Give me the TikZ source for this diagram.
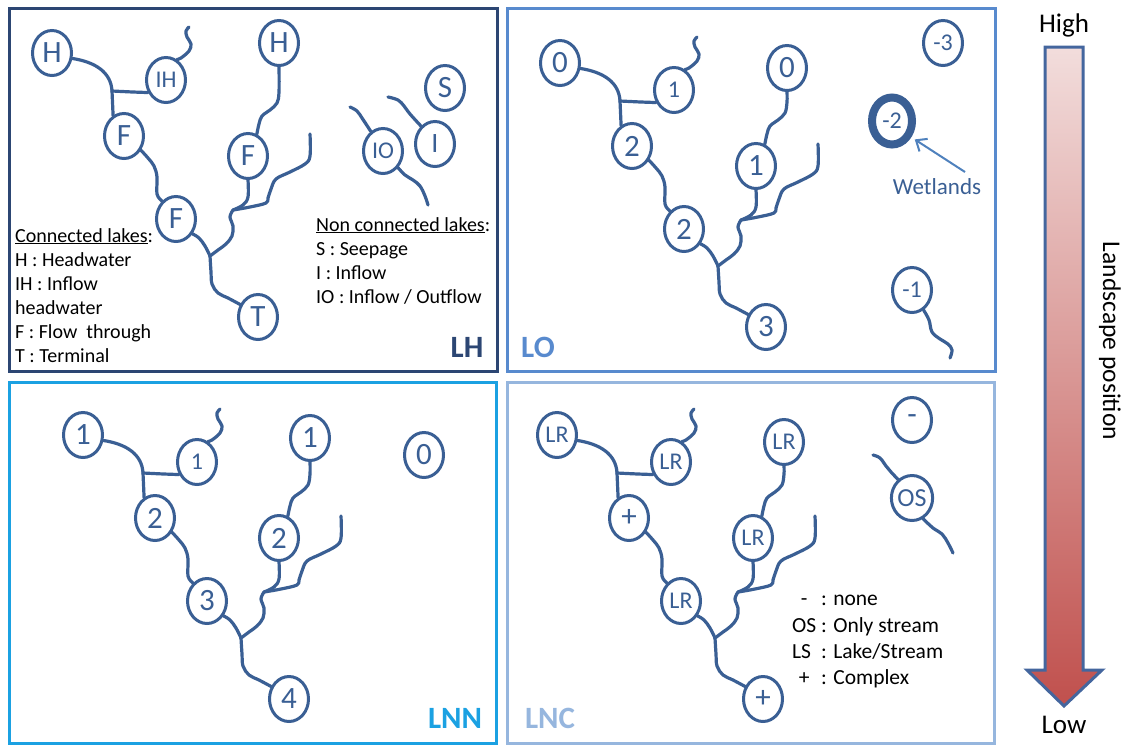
\documentclass[tikz,border=0pt]{standalone}
\usepackage{fontspec}
\setmainfont{Carlito}
\usetikzlibrary{shapes.geometric,arrows.meta}
\definecolor{riv}{RGB}{58,95,148}
\definecolor{boxLH}{RGB}{44,70,115}
\definecolor{boxLO}{RGB}{88,138,206}
\definecolor{boxLNN}{RGB}{27,161,226}
\definecolor{boxLNC}{RGB}{150,182,222}
\definecolor{thinarrow}{RGB}{79,129,189}
\definecolor{bigarrow}{RGB}{68,102,158}
\definecolor{pinktop}{RGB}{242,221,220}
\definecolor{redbot}{RGB}{192,80,77}
\newcommand\fsz[1]{\fontsize{#1}{#1}\selectfont}
\tikzset{
 lake/.style={ellipse, draw=riv, fill=white, line width=3pt, minimum width=39pt, minimum height=45pt, inner sep=0pt, text=riv, font=\fsz{31}},
 lakesm/.style={lake, font=\fsz{24}},
 river/.style={draw=riv, line width=3.2pt, line cap=round, line join=round},
 panel/.style={line width=3pt},
 leg/.style={anchor=base west, inner sep=0pt, font=\fsz{20}},
 legb/.style={anchor=base west, inner sep=0pt, font=\fsz{21.5}},
 tag/.style={inner sep=0pt, font=\fsz{31}\bfseries},
}
% #1 prefix, #2..#8 labels, #9 y of second headwater lake
\newcommand\lakenet[9]{%
 \node[lake] (#1H1) at (52,53) {#2};
 \node[lakesm] (#1IH) at (166,80) {#3};
 \node[lake] (#1F1) at (124,136) {#4};
 \node[lake] (#1F2) at (176,219) {#5};
 \node[lake] (#1H2) at (279,#9) {#6};
 \node[lake] (#1F3) at (248,156) {#7};
 \node[lake] (#1T) at (258,317) {#8};
 \coordinate (#1J1) at (112,91);
 \coordinate (#1J2) at (210,256);
 \coordinate (#1J3) at (233,210);
 \coordinate (#1E1) at (189,27);
 \coordinate (#1E2) at (310,134);
 \draw[river] (#1H1.-15) .. controls (95,62) and (111,72) .. (#1J1);
 \draw[river] (#1IH.215) .. controls (132,92) .. (#1J1);
 \draw[river] plot[smooth,tension=0.6] coordinates {(#1IH.62) (181,58) (189,51) (191,44) (187,37) (186,31) (#1E1)};
 \draw[river] (#1J1) -- (#1F1.118);
 \draw[river] plot[smooth,tension=0.6] coordinates {(#1F1.-40) (148,158) (154,166) (157,177) (157,194) (#1F2.128)};
 \draw[river] plot[smooth,tension=0.6] coordinates {(#1F2.-42) (199,238) (205,246) (#1J2)};
 \draw[river] plot[smooth,tension=0.6] coordinates {(#1J2) (211,272) (212,284) (218,293) (228,298) (#1T.145)};
 \draw[river] plot[smooth,tension=0.6] coordinates {(#1J2) (218,250) (226,244) (232,236) (233,226) (230,217) (#1J3)};
 \draw[river] plot[smooth,tension=0.6] coordinates {(#1J3) (243,205) (248,197) (#1F3.-90)};
 \draw[river] plot[smooth,tension=0.6] coordinates {(#1F3.68) (259,124) (262,116) (270,110) (277,103) (279,92) (#1H2.-90)};
 \draw[river] plot[smooth,tension=0.6] coordinates {(#1J3) (250,207) (266,203) (268,198) (271,189) (276,179) (290,172) (305,164) (310,156) (#1E2)};
}
\begin{document}
\begin{tikzpicture}[x=1pt,y=-1pt]
\useasboundingbox (0,0) rectangle (1126,745);
% panel frames
\draw[panel, draw=boxLH] (9,8) rectangle (497,371);
\draw[panel, draw=boxLO] (507,8) rectangle (995,371);
\draw[panel, draw=boxLNN] (9,382) rectangle (496,743);
\draw[panel, draw=boxLNC] (507,382) rectangle (994,743);

% ---------- LH ----------
\lakenet{a}{H}{IH}{F}{F}{H}{F}{T}{43}
\node[lake] (S) at (445,88) {S};
\node[lake, font=\fsz{28}] (I) at (435,144) {I};
\node[lakesm] (IO) at (383,151) {IO};
\coordinate (ioA) at (350,107);
\coordinate (ioB) at (428,205);
\coordinate (iA) at (388,97);
\draw[river] plot[smooth,tension=0.6] coordinates {(ioA) (357,111) (362,118) (366,124) (IO.122)};
\draw[river] plot[smooth,tension=0.6] coordinates {(IO.-48) (405,175) (413,180) (420,186) (425,196) (ioB)};
\draw[river] plot[smooth,tension=0.6] coordinates {(iA) (398,100) (404,106) (410,114) (I.128)};
\node[leg] (cl0) at (15,242) {\underline{Connected lakes}:};
\node[leg] (cl1) at (15,266) {H : Headwater};
\node[leg] (cl2) at (15,290) {IH : Inflow};
\node[leg] (cl3) at (15,314) {headwater};
\node[leg] (cl4) at (15,338) {F : Flow~ through};
\node[leg] (cl5) at (15,362) {T : Terminal};
\node[leg] (nl0) at (316,231) {\underline{Non connected lakes}:};
\node[leg] (nl1) at (316,255) {S : Seepage};
\node[leg] (nl2) at (316,279) {I : Inflow};
\node[leg] (nl3) at (316,303) {IO : Inflow / Outflow};
\node[tag, text=boxLH] (tLH) at (467,347) {LH};

% ---------- LO ----------
\begin{scope}[shift={(508,10)}]
\lakenet{b}{0}{1}{2}{2}{0}{1}{3}{58}
\end{scope}
\node[lakesm] (m3) at (943,43) {-3};
\node[lakesm, line width=8pt, minimum width=40pt, minimum height=47pt] (m2) at (892,121) {-2};
\node[lakesm] (m1) at (912,290) {-1};
\coordinate (m1e) at (950,358);
\draw[river] plot[smooth,tension=0.6] coordinates {(m1.-60) (929,320) (932,332) (940,339) (948,344) (952,350) (m1e)};
\node[inner sep=0pt, text=riv, font=\fsz{23}] (wl) at (937,187) {Wetlands};
\coordinate (wa) at (965,172);
\draw[draw=thinarrow, line width=2pt, shorten >=4pt, -{Straight Barb[length=9pt,width=15pt]}] (wa) -- (m2.-40);
\node[tag, text=boxLO] (tLO) at (538,347) {LO};

% ---------- LNN ----------
\begin{scope}[shift={(31,382)}]
\lakenet{c}{1}{1}{2}{3}{1}{2}{4}{56}
\end{scope}
\node[lake] (z0) at (424,455) {0};
\node[tag, text=boxLNN] (tLNN) at (455,718) {LNN};

% ---------- LNC ----------
\begin{scope}[shift={(505,382)}]
\lakenet{d}{\fsz{24}LR}{LR}{+}{\fsz{24}LR}{\fsz{24}LR}{\fsz{24}LR}{+}{60}
\end{scope}
\node[lake] (dsh) at (912,420) {-};
\node[lakesm, font=\fsz{26}] (os) at (912,498) {OS};
\coordinate (osA) at (873,455);
\coordinate (osB) at (953,553);
\draw[river] plot[smooth,tension=0.6] coordinates {(osA) (880,458) (886,466) (891,472) (os.127)};
\draw[river] plot[smooth,tension=0.6] coordinates {(os.-62) (933,528) (942,534) (948,543) (osB)};
\node[legb] (k1) at (792,605) {\makebox[24pt][c]{-} : none};
\node[legb] (k2) at (792,632) {\makebox[24pt][l]{OS} : Only stream};
\node[legb] (k3) at (792,658) {\makebox[24pt][l]{LS} : Lake/Stream};
\node[legb] (k4) at (792,684) {\makebox[24pt][c]{+} : Complex};
\node[tag, text=boxLNC] (tLNC) at (550,718) {LNC};

% ---------- landscape arrow ----------
\draw[line width=3pt, draw=bigarrow, top color=pinktop, bottom color=redbot, line join=miter]
  (1045,47) -- (1083,47) -- (1083,670) -- (1102,670) -- (1064,706) -- (1027,670) -- (1045,670) -- cycle;
\node[font=\fsz{27}, anchor=base, inner sep=0pt] (hi) at (1064,32) {High};
\node[font=\fsz{27}, anchor=base, inner sep=0pt] (lw) at (1064,733) {Low};
\node[font=\fsz{25.5}, rotate=-90, inner sep=0pt] (lp) at (1110,341) {Landscape position};
\end{tikzpicture}
\end{document}
